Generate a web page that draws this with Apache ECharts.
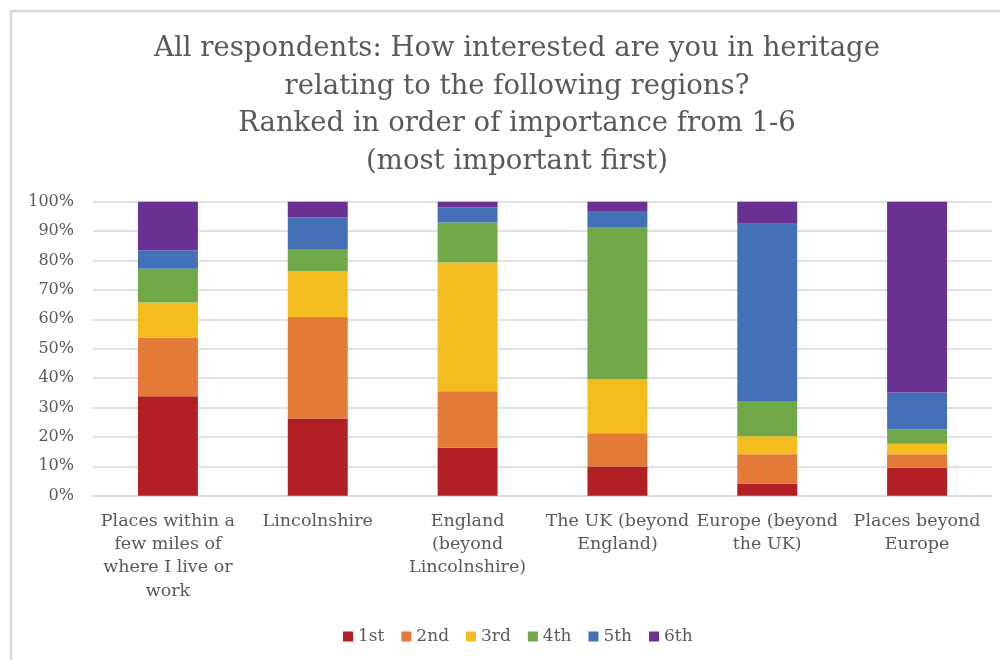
<!DOCTYPE html>
<html>
<head>
<meta charset="utf-8">
<script src="https://cdn.jsdelivr.net/npm/echarts@6/dist/echarts.min.js"></script>
<style>
  html, body { margin: 0; padding: 0; background: #ffffff; }
  #chart { width: 1000px; height: 660px; }
</style>
</head>
<body>
<div id="chart"></div>
<script>
// Regions asked about (x-axis tick labels, wrapped as shown under each column)
const regions = [
  'Places within a\nfew miles of\nwhere I live or\nwork',
  'Lincolnshire',
  'England\n(beyond\nLincolnshire)',
  'The UK (beyond\nEngland)',
  'Europe (beyond\nthe UK)',
  'Places beyond\nEurope'
];

// Rank names (legend / series)
const ranks = ['1st', '2nd', '3rd', '4th', '5th', '6th'];

// Share of respondents (%) giving each rank, per region
const rank1 = [33.8, 26.3, 16.3, 9.9, 4.1, 9.5];
const rank2 = [19.9, 34.5, 19.2, 11.3, 10.0, 4.6];
const rank3 = [12.0, 15.6, 43.8, 18.5, 6.1, 3.6];
const rank4 = [11.5, 7.5, 13.6, 51.7, 12.0, 4.9];
const rank5 = [6.3, 10.8, 5.1, 5.4, 60.3, 12.5];
const rank6 = [16.5, 5.3, 2.0, 3.2, 7.5, 64.9];

// Y-axis ticks
const yTicks = { min: 0, max: 100, step: 10 };

const rankValues = [rank1, rank2, rank3, rank4, rank5, rank6];
const rankColors = ['#b21f24', '#e37a37', '#f3bc1f', '#70a747', '#4370b6', '#6a3192'];

const textGrey = '#595959';
const fontFamily = '"DejaVu Serif", serif';

const chart = echarts.init(document.getElementById('chart'), null, { renderer: 'canvas' });

chart.setOption({
  animation: false,
  backgroundColor: '#ffffff',
  textStyle: { fontFamily: fontFamily },
  title: {
    text: 'All respondents: How interested are you in heritage\nrelating to the following regions?\nRanked in order of importance from 1-6\n(most important first)',
    left: 512,
    top: 25,
    textAlign: 'center',
    textStyle: {
      fontFamily: fontFamily,
      fontSize: 27.5,
      fontWeight: 'normal',
      color: textGrey,
      lineHeight: 37.6
    }
  },
  legend: {
    data: ranks,
    left: 338,
    top: 623,
    icon: 'rect',
    itemWidth: 10,
    itemHeight: 10,
    itemGap: 17,
    textStyle: { fontFamily: fontFamily, fontSize: 17, color: textGrey }
  },
  grid: {
    left: 93,
    right: 8,
    top: 201.7,
    bottom: 164.3,
    containLabel: false
  },
  xAxis: {
    type: 'category',
    data: regions,
    axisLine: { show: true, lineStyle: { color: '#d9d9d9', width: 1.5 } },
    axisTick: { show: false },
    axisLabel: {
      interval: 0,
      margin: 14,
      fontFamily: fontFamily,
      fontSize: 17.5,
      color: textGrey,
      lineHeight: 23.3,
      align: 'center'
    }
  },
  yAxis: {
    type: 'value',
    min: yTicks.min,
    max: yTicks.max,
    interval: yTicks.step,
    axisLine: { show: false },
    axisTick: { show: false },
    splitLine: { lineStyle: { color: '#d9d9d9', width: 1.5 } },
    axisLabel: {
      formatter: '{value}%',
      margin: 19,
      fontFamily: fontFamily,
      fontSize: 16,
      color: textGrey
    }
  },
  series: ranks.map((name, i) => ({
    name: name,
    type: 'bar',
    stack: 'rank',
    barWidth: '40%',
    data: rankValues[i],
    itemStyle: { color: rankColors[i] }
  })),
  graphic: [{
    type: 'rect',
    shape: { x: 11, y: 11, width: 1000, height: 660 },
    style: { fill: 'none', stroke: '#d9d9d9', lineWidth: 2.5 },
    silent: true,
    z: -1
  }]
});
</script>
</body>
</html>
